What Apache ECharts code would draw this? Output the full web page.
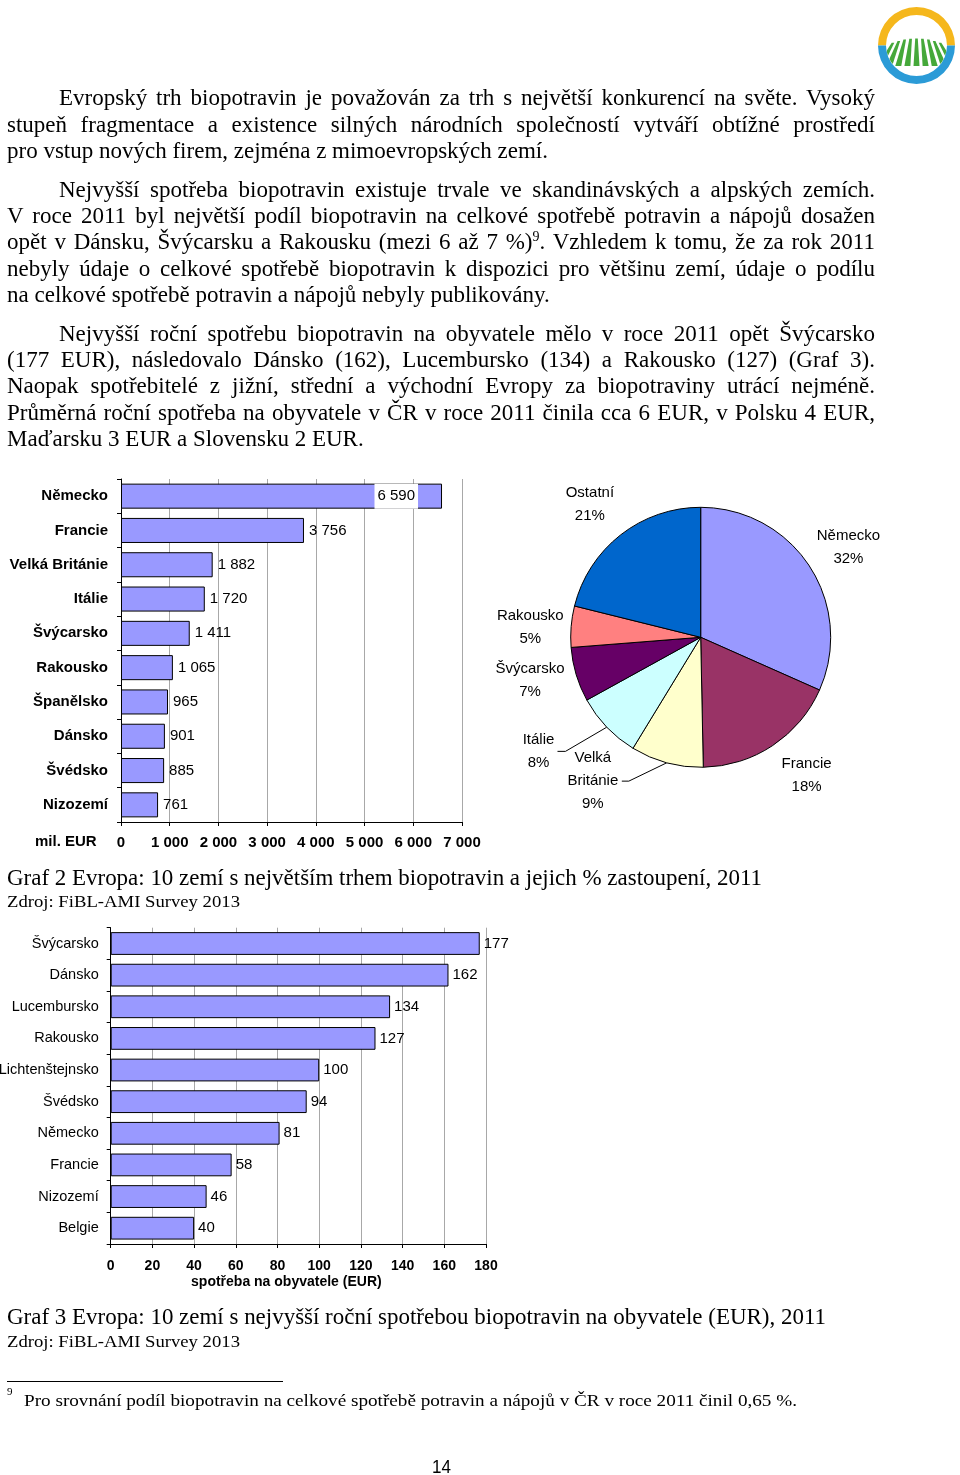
<!DOCTYPE html>
<html><head><meta charset="utf-8">
<script src="https://cdn.jsdelivr.net/npm/echarts@6/dist/echarts.min.js"></script>
<style>
html,body{margin:0;padding:0;background:#fff;}
#page{position:relative;width:960px;height:1475px;overflow:hidden;background:#fff;}
#chart{position:absolute;left:0;top:0;width:960px;height:1475px;}
.t{position:absolute;white-space:nowrap;color:#000;}
</style></head><body>
<div id="page"><div id="chart"></div></div>
<script>
// ---------------- DATA ----------------
const marketCountries = ['Německo','Francie','Velká Británie','Itálie','Švýcarsko','Rakousko','Španělsko','Dánsko','Švédsko','Nizozemí'];
const marketValues = [6590,3756,1882,1720,1411,1065,965,901,885,761];
const marketTickLabels = ['0','1 000','2 000','3 000','4 000','5 000','6 000','7 000'];
const marketUnit = 'mil. EUR';

const shareNames = ['Německo','Francie','Velká Británie','Itálie','Švýcarsko','Rakousko','Ostatní'];
const shareValues = [6590,3756,1882,1720,1411,1065,4400]; // Ostatní

const perCapitaCountries = ['Švýcarsko','Dánsko','Lucembursko','Rakousko','Lichtenštejnsko','Švédsko','Německo','Francie','Nizozemí','Belgie'];
const perCapitaValues = [177,162,134,127,100,94,81,58,46,40];
const perCapitaTickLabels = ['0','20','40','60','80','100','120','140','160','180'];
const perCapitaAxisName = 'spotřeba na obyvatele (EUR)';

const paragraphs = [
 ['Evropský trh biopotravin je považován za trh s největší konkurencí na světe. Vysoký',
  'stupeň fragmentace a existence silných národních společností vytváří obtížné prostředí',
  'pro vstup nových firem, zejména z mimoevropských zemí.'],
 ['Nejvyšší spotřeba biopotravin existuje trvale ve skandinávských a alpských zemích.',
  'V roce 2011 byl největší podíl biopotravin na celkové spotřebě potravin a nápojů dosažen',
  'opět v Dánsku, Švýcarsku a Rakousku (mezi 6 až 7 %)<sup>9</sup>. Vzhledem k tomu, že za rok 2011',
  'nebyly údaje o celkové spotřebě biopotravin k dispozici pro většinu zemí, údaje o podílu',
  'na celkové spotřebě potravin a nápojů nebyly publikovány.'],
 ['Nejvyšší roční spotřebu biopotravin na obyvatele mělo v roce 2011 opět Švýcarsko',
  '(177 EUR), následovalo Dánsko (162), Lucembursko (134) a Rakousko (127) (Graf 3).',
  'Naopak spotřebitelé z jižní, střední a východní Evropy za biopotraviny utrácí nejméně.',
  'Průměrná roční spotřeba na obyvatele v ČR v roce 2011 činila cca 6 EUR, v Polsku 4 EUR,',
  'Maďarsku 3 EUR a Slovensku 2 EUR.']
];
const caption2 = 'Graf 2 Evropa: 10 zemí s největším trhem biopotravin a jejich % zastoupení, 2011';
const caption3 = 'Graf 3 Evropa: 10 zemí s nejvyšší roční spotřebou biopotravin na obyvatele (EUR), 2011';
const sourceText = 'Zdroj: FiBL-AMI Survey 2013';
const footnoteMark = '9';
const footnoteText = 'Pro srovnání podíl biopotravin na celkové spotřebě potravin a nápojů v ČR v roce 2011 činil 0,65 %.';
const pageNumber = '14';

// ---------------- STYLE ----------------
const SANS = '"Liberation Sans", Arial, sans-serif';
const SERIF = '"Liberation Serif", "Times New Roman", serif';
const BAR_COLOR = '#9999ff';
const SLICE_COLORS = ['#9999ff','#993366','#ffffcc','#ccffff','#660066','#ff8080','#0066cc'];
const GRID_COLOR = '#a8a8a8';
const fmt = v => String(v).replace(/\B(?=(\d{3})+(?!\d))/g, ' ');

// ---------------- CHARTS ----------------
const chart = echarts.init(document.getElementById('chart'), null, {renderer:'canvas'});

const marketMax = 7000, marketStep = 1000;
const pcMax = 180, pcStep = 20;

// leader-line labels (style/layout tuning)
const leaderCfg = {
  'Itálie': {length: 35, length2: 24, width: 34, knee: 8},
  'Velká Británie': {length: 19, length2: 40, width: 54, knee: 7}
};
// small label nudges to mimic the original best-fit placement
const labelNudge = {
  'Ostatní': [-3, 5], 'Německo': [1, 5], 'Rakousko': [4, 4], 'Švýcarsko': [-3, -7], 'Francie': [9, -8]
};

const pieCenter = [700.7, 637.3];

const option = {
  animation: false,
  textStyle: {fontFamily: SANS},
  grid: [
    {left: 121, top: 479, width: 341, height: 343, containLabel: false, outerBoundsMode: 'none'},
    {left: 110.7, top: 927.7, width: 375.3, height: 316.3, containLabel: false, outerBoundsMode: 'none'}
  ],
  xAxis: [
    {gridIndex: 0, type: 'value', min: 0, max: marketMax, interval: marketStep,
     axisLine: {show: true, lineStyle: {color: '#000', width: 1}},
     axisTick: {show: true, length: 4, lineStyle: {color: '#000'}},
     axisLabel: {margin: 13, fontWeight: 'bold', fontSize: 15, color: '#000', fontFamily: SANS,
       formatter: v => marketTickLabels[Math.round(v / marketStep)]},
     splitLine: {show: true, lineStyle: {color: GRID_COLOR, width: 1}}},
    {gridIndex: 1, type: 'value', min: 0, max: pcMax, interval: pcStep,
     axisLine: {show: true, lineStyle: {color: '#000', width: 1}},
     axisTick: {show: true, length: 4, lineStyle: {color: '#000'}},
     axisLabel: {margin: 15, fontWeight: 'bold', fontSize: 14, color: '#000', fontFamily: SANS,
       formatter: v => perCapitaTickLabels[Math.round(v / pcStep)]},
     splitLine: {show: true, lineStyle: {color: GRID_COLOR, width: 1}},
     name: perCapitaAxisName, nameLocation: 'middle', nameGap: 31,
     nameTextStyle: {fontWeight: 'bold', fontSize: 14, color: '#000', fontFamily: SANS, padding: [0, 24, 0, 0]}}
  ],
  yAxis: [
    {gridIndex: 0, type: 'category', inverse: true, data: marketCountries,
     axisLine: {show: true, lineStyle: {color: '#000', width: 1}},
     axisTick: {show: true, length: 4, lineStyle: {color: '#000'}},
     axisLabel: {margin: 13, fontWeight: 'bold', fontSize: 15, color: '#000', fontFamily: SANS},
     splitLine: {show: false}},
    {gridIndex: 1, type: 'category', inverse: true, data: perCapitaCountries,
     axisLine: {show: true, lineStyle: {color: '#000', width: 1}},
     axisTick: {show: true, length: 4, lineStyle: {color: '#000'}},
     axisLabel: {margin: 12, fontSize: 14.5, color: '#000', fontFamily: SANS},
     splitLine: {show: false}}
  ],
  series: [
    {type: 'bar', xAxisIndex: 0, yAxisIndex: 0, barCategoryGap: '27%',
     itemStyle: {color: BAR_COLOR, borderColor: '#000', borderWidth: 1},
     label: {show: true, position: 'right', distance: 5, fontSize: 15, color: '#000', fontFamily: SANS,
       formatter: p => fmt(p.value)},
     data: marketValues.map(v => v / marketMax > 0.85
        ? {value: v, label: {position: 'insideRight', distance: 24, backgroundColor: '#fff', padding: [5, 3, 5, 3]}}
        : v)},
    {type: 'bar', xAxisIndex: 1, yAxisIndex: 1, barCategoryGap: '28%',
     itemStyle: {color: BAR_COLOR, borderColor: '#000', borderWidth: 1},
     label: {show: true, position: 'right', distance: 4, fontSize: 15, color: '#000', fontFamily: SANS},
     data: perCapitaValues},
    // visible pie
    {type: 'pie', center: pieCenter, radius: 130, startAngle: 90, clockwise: true,
     avoidLabelOverlap: false, percentPrecision: 0, silent: true,
     itemStyle: {borderColor: '#000', borderWidth: 1},
     label: {show: false}, labelLine: {show: false},
     labelLayout: params => {
       const c = leaderCfg[shareNames[params.dataIndex]];
       if (!c || !params.labelLinePoints) return {};
       const pts = params.labelLinePoints;
       const end = pts[pts.length - 1];
       const dir = end[0] < pts[0][0] ? 1 : -1;
       return {labelLinePoints: [pts[0], [end[0] + dir * c.knee, end[1]], end]};
     },
     data: shareNames.map((n, i) => {
       const o = {name: n, value: shareValues[i], itemStyle: {color: SLICE_COLORS[i]}};
       const c = leaderCfg[n];
       if (c) {
         o.label = {show: true, position: 'outside', distanceToLabelLine: 2, color: '#000', fontSize: 15, fontFamily: SANS,
           formatter: p => p.name.split(' ').concat([p.percent + '%']).map(s => '{c|' + s + '}').join('\n'),
           rich: {c: {width: c.width, align: 'center', fontSize: 15, lineHeight: 23, color: '#000', fontFamily: SANS}}};
         o.labelLine = {show: true, length: c.length, length2: c.length2, smooth: false, lineStyle: {color: '#000', width: 1}};
       }
       return o;
     })},
    // label carrier pie (transparent): labels centred on a ring around the pie
    {type: 'pie', center: pieCenter, radius: [0, 344], startAngle: 90, clockwise: true,
     avoidLabelOverlap: false, percentPrecision: 0, silent: true, z: 1,
     itemStyle: {color: 'rgba(0,0,0,0)', borderWidth: 0},
     emphasis: {disabled: true},
     label: {show: true, position: 'inside', rotate: 0, fontSize: 15, lineHeight: 23, color: '#000', fontFamily: SANS,
       align: 'center', formatter: '{b}\n{d}%'},
     labelLine: {show: false},
     labelLayout: params => {
       const nd = labelNudge[shareNames[params.dataIndex]];
       return nd ? {dx: nd[0], dy: nd[1]} : {};
     },
     data: shareNames.map((n, i) => leaderCfg[n]
        ? {name: n, value: shareValues[i], label: {show: false}}
        : {name: n, value: shareValues[i]})}
  ],
  graphic: [
    {type: 'text', left: 35, top: 834.5, style: {text: marketUnit, font: 'bold 15px ' + SANS, fill: '#000'}}
  ]
};
chart.setOption(option);

// ---------------- TEXT ----------------
const page = document.getElementById('page');
const ASC = {serif: 0.891, sans: 0.905}, DESC = {serif: 0.216, sans: 0.212};
function measure(html, size, family) {
  const s = document.createElement('span');
  s.className = 't';
  s.style.fontFamily = family; s.style.fontSize = size + 'px';
  s.innerHTML = html;
  page.appendChild(s);
  const w = s.getBoundingClientRect().width;
  page.removeChild(s);
  return w;
}
function place(html, left, baseline, size, lh, kind, family) {
  const d = document.createElement('div');
  d.className = 't';
  d.style.fontFamily = family; d.style.fontSize = size + 'px'; d.style.lineHeight = lh + 'px';
  d.style.left = left + 'px';
  const off = (lh - (ASC[kind] + DESC[kind]) * size) / 2 + ASC[kind] * size;
  d.style.top = (baseline - off) + 'px';
  d.innerHTML = html;
  page.appendChild(d);
  return d;
}
function justifyLine(html, left, right, baseline, size, lh) {
  const w = right - left;
  const nat = measure(html, size, SERIF);
  const d = place(html, left, baseline, size, lh, 'serif', SERIF);
  if (nat <= w) {
    d.style.whiteSpace = 'normal'; d.style.width = w + 'px';
    d.style.textAlign = 'justify'; d.style.textAlignLast = 'justify';
  } else {
    d.style.transformOrigin = '0 0'; d.style.transform = 'scaleX(' + (w / nat) + ')';
  }
}
function fitLine(html, left, width, baseline, size, kind, family) {
  const nat = measure(html, size, family);
  const d = place(html, left, baseline, size, size * 1.2, kind, family);
  d.style.transformOrigin = '0 0'; d.style.transform = 'scaleX(' + (width / nat) + ')';
}

const BODY = 23, LH = 26.4, LEFT = 7, RIGHT = 875, INDENT = 59, PARA_GAP = 12;
let baseline = 106.3;
paragraphs.forEach((lines) => {
  lines.forEach((ln, li) => {
    const html = ln.replace('<sup>', '<sup style="font-size:14px;line-height:0;vertical-align:8px">');
    const left = li === 0 ? INDENT : LEFT;
    if (li < lines.length - 1) justifyLine(html, left, RIGHT, baseline, BODY, LH);
    else place(html, left, baseline, BODY, LH, 'serif', SERIF);
    baseline += LH;
  });
  baseline += PARA_GAP;
});

fitLine(caption2, 7, 755, 886, 23, 'serif', SERIF);
fitLine(sourceText, 7, 233, 907.5, 17, 'serif', SERIF);
fitLine(caption3, 7, 819, 1325, 23, 'serif', SERIF);
fitLine(sourceText, 7, 233, 1348, 17, 'serif', SERIF);

const rule = document.createElement('div');
rule.style.cssText = 'position:absolute;left:7px;top:1380.5px;width:276px;height:1px;background:#000;';
page.appendChild(rule);
place(footnoteMark, 7, 1395, 11, 13, 'serif', SERIF);
fitLine(footnoteText, 24, 773, 1407, 17, 'serif', SERIF);
fitLine(pageNumber, 432, 19, 1474, 19, 'sans', '"Liberation Sans Narrow", "Liberation Sans", sans-serif');

// ---------------- LOGO (decoration) ----------------
let stripes = '';
for (let i = 0; i < 9; i++) {
  const t = i / 8;
  const xt = 893 + t * 47, xb = 880 + t * 73;
  const yt = 38.5 + Math.pow((xt - 916.5) / 24, 2) * 4.5;
  stripes += `<polygon points="${xt - 1.3},${yt} ${xt + 1.3},${yt} ${xb + 3},66 ${xb - 3},66"/>`;
}
const svgNS = `<svg xmlns="http://www.w3.org/2000/svg" style="position:absolute;left:870px;top:0" width="90" height="90" viewBox="870 0 90 90">
 <defs><clipPath id="cp"><circle cx="916.5" cy="45" r="30.5"/></clipPath></defs>
 <path d="M 878 45.5 A 38.5 38.5 0 0 1 955 45.5 L 947 45.5 A 30.5 30.5 0 0 0 886 45.5 Z" fill="#f5b71c"/>
 <path d="M 878 45.5 A 38.5 38.5 0 0 0 955 45.5 L 947 45.5 A 30.5 30.5 0 0 1 886 45.5 Z" fill="#2b9bd7"/>
 <g clip-path="url(#cp)" fill="#45a83a">${stripes}</g>
</svg>`;
const logo = document.createElement('div');
logo.innerHTML = svgNS;
page.appendChild(logo);
</script>
</body></html>
